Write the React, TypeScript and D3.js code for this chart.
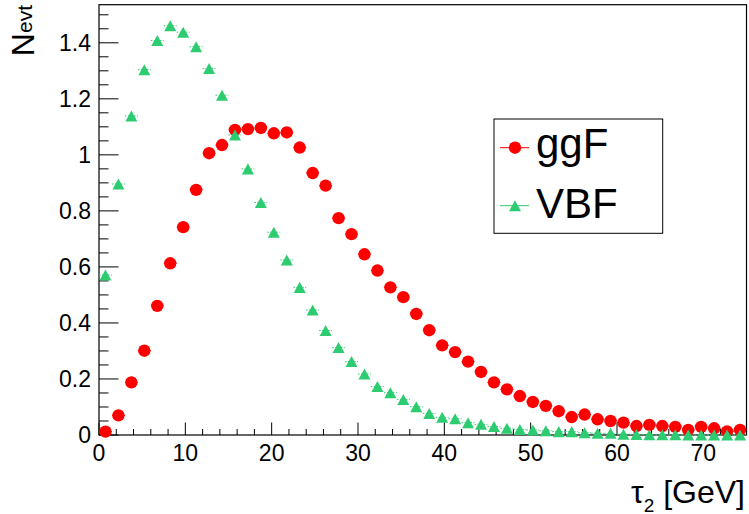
import React from "react";
import * as d3 from "d3";

const binEdgesLow = 0;
const binEdgesHigh = 75;
const nBins = 50;

const ggF = [
  0.012, 0.070, 0.188, 0.301, 0.461, 0.613, 0.742, 0.875, 1.006, 1.035,
  1.089, 1.092, 1.096, 1.077, 1.080, 1.026, 0.935, 0.890, 0.774, 0.717,
  0.645, 0.587, 0.527, 0.492, 0.432, 0.374, 0.320, 0.296, 0.262, 0.225,
  0.188, 0.163, 0.139, 0.118, 0.104, 0.085, 0.064, 0.073, 0.056, 0.050,
  0.044, 0.032, 0.036, 0.032, 0.029, 0.018, 0.029, 0.024, 0.013, 0.018,
];

const VBF = [
  0.571, 0.896, 1.139, 1.304, 1.408, 1.461, 1.438, 1.386, 1.308, 1.213,
  1.071, 0.950, 0.830, 0.724, 0.625, 0.527, 0.446, 0.373, 0.312, 0.262,
  0.218, 0.173, 0.151, 0.127, 0.101, 0.077, 0.063, 0.058, 0.044, 0.038,
  0.030, 0.024, 0.020, 0.018, 0.015, 0.012, 0.012, 0.008, 0.006, 0.006,
  0.003, 0.002, 0.001, 0.001, 0.001, 0.000, 0.000, 0.000, 0.000, 0.000,
];

const xMajorTicks = [0, 10, 20, 30, 40, 50, 60, 70];
const yMajorTicks = [0, 0.2, 0.4, 0.6, 0.8, 1, 1.2, 1.4];
const yMax = 1.536;

const seriesNames = ["ggF", "VBF"];

const RED = "#ff0000";
const GREEN = "#2ecc71";
const FONT = "'Liberation Sans', Arial, Helvetica, sans-serif";

export default function App() {
  const W = 749;
  const H = 514;
  const x = d3.scaleLinear().domain([binEdgesLow, binEdgesHigh]).range([99, 746.5]);
  const y = d3.scaleLinear().domain([0, yMax]).range([435, 4.7]);
  const bw = (binEdgesHigh - binEdgesLow) / nBins;
  const centers = d3.range(nBins).map((i) => binEdgesLow + (i + 0.5) * bw);

  const xMinor = d3.range(0, 75.001, 2).filter((v) => v % 10 !== 0);
  const yMinor = d3.range(0, 1.5001, 0.05).filter(
    (v) => Math.abs(v / 0.2 - Math.round(v / 0.2)) > 1e-6
  );

  const tri = (cx: number, cy: number, s: number) => {
    const h = s * 0.92;
    return `M${cx},${cy - h / 2}L${cx + s / 2},${cy + h / 2}L${cx - s / 2},${cy + h / 2}Z`;
  };

  const fmtY = (v: number) => String(+v.toFixed(1));

  return (
    <svg
      width={W}
      height={H}
      style={{ position: "absolute", left: 0, top: 0, background: "#fff" }}
      fontFamily={FONT}
    >
      <rect x={0} y={0} width={W} height={H} fill="#fff" />

      {/* frame */}
      <rect
        x={99}
        y={4.7}
        width={647.5}
        height={430.3}
        fill="none"
        stroke="#000"
        strokeWidth={1.2}
      />

      {/* x ticks */}
      {xMajorTicks.map((t) => (
        <g key={"xt" + t}>
          <line x1={x(t)} x2={x(t)} y1={435} y2={422.5} stroke="#000" strokeWidth={1} />
          <text x={x(t)} y={461} textAnchor="middle" fontSize={23} fill="#000">
            {t}
          </text>
        </g>
      ))}
      {xMinor.map((t) => (
        <line key={"xm" + t} x1={x(t)} x2={x(t)} y1={435} y2={429} stroke="#000" strokeWidth={1} />
      ))}

      {/* y ticks */}
      {yMajorTicks.map((t) => (
        <g key={"yt" + t}>
          <line x1={99} x2={118.5} y1={y(t)} y2={y(t)} stroke="#000" strokeWidth={1} />
          <text x={91} y={y(t) + 8} textAnchor="end" fontSize={23} fill="#000">
            {fmtY(t)}
          </text>
        </g>
      ))}
      {yMinor.map((t) => (
        <line key={"ym" + t} x1={99} x2={108.5} y1={y(t)} y2={y(t)} stroke="#000" strokeWidth={1} />
      ))}

      {/* series */}
      <g>
        {ggF.map((v, i) => (
          <g key={"g" + i}>
            <line
              x1={x(centers[i] - bw / 2)}
              x2={x(centers[i] + bw / 2)}
              y1={y(v)}
              y2={y(v)}
              stroke={RED}
              strokeWidth={1}
            />
            <circle cx={x(centers[i])} cy={y(v)} r={6.2} fill={RED} />
          </g>
        ))}
        {VBF.map((v, i) => (
          <g key={"v" + i}>
            <line
              x1={x(centers[i] - bw / 2)}
              x2={x(centers[i] + bw / 2)}
              y1={y(v)}
              y2={y(v)}
              stroke={GREEN}
              strokeWidth={1}
              strokeDasharray="1.5,1.5"
            />
            <path d={tri(x(centers[i]), y(v), 12)} fill={GREEN} />
          </g>
        ))}
      </g>

      {/* axis titles */}
      <text x={745} y={503} textAnchor="end" fontSize={32} fill="#000">
        <tspan>τ</tspan>
        <tspan fontSize={19} dy={8.5}>2</tspan>
        <tspan dy={-8.5}> [GeV]</tspan>
      </text>
      <text transform="rotate(-90)" x={-5} y={34} textAnchor="end" fontSize={32} fill="#000">
        <tspan>N</tspan>
        <tspan fontSize={21} dy={-2}>evt</tspan>
      </text>

      {/* legend */}
      <rect x={494} y={119} width={168.7} height={114.3} fill="#fff" stroke="#000" strokeWidth={1} />
      <line x1={500} x2={529} y1={147.7} y2={147.7} stroke={RED} strokeWidth={1} />
      <circle cx={515} cy={147.7} r={6.2} fill={RED} />
      <text x={536} y={158.3} fontSize={42} fill="#000">
        {seriesNames[0]}
      </text>
      <line x1={500} x2={529} y1={205.7} y2={205.7} stroke={GREEN} strokeWidth={1} />
      <path d={tri(515, 205.7, 12)} fill={GREEN} />
      <text x={536} y={218.3} fontSize={42} fill="#000">
        {seriesNames[1]}
      </text>
    </svg>
  );
}
